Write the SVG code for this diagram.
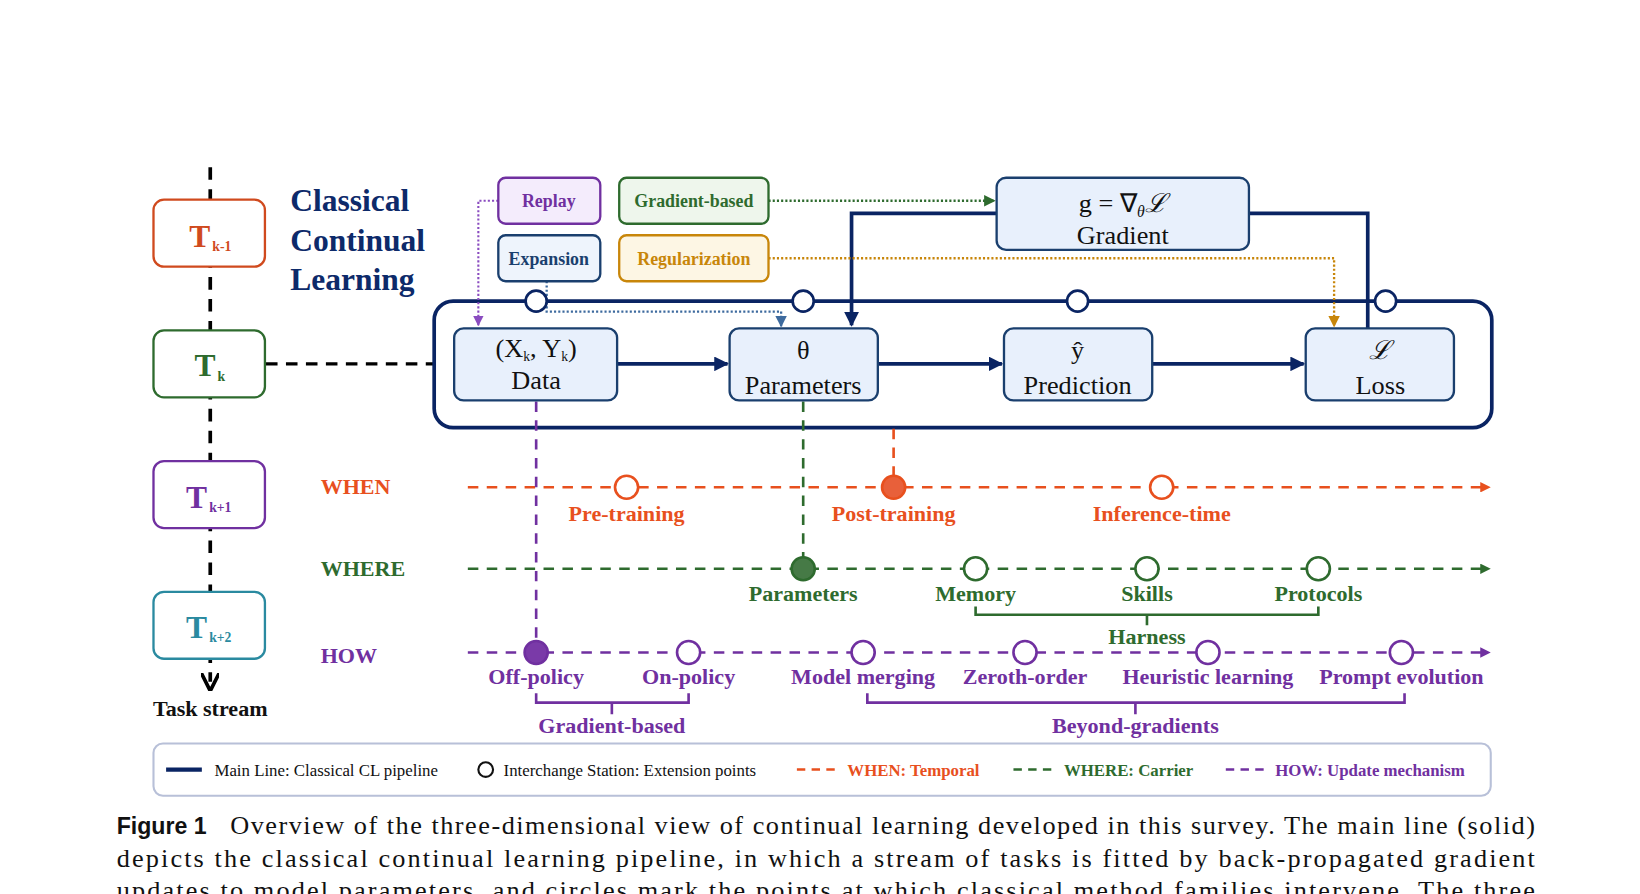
<svg xmlns="http://www.w3.org/2000/svg" width="1640" height="894" viewBox="0 0 1640 894">
<defs>
<style>
.serif{font-family:"Liberation Serif","Times New Roman",serif}
.b{font-weight:bold}
.node rect{fill:#e8f0fc;stroke:#1a3f6e;stroke-width:2.2}
.node text{font-family:"Liberation Serif",serif;font-size:25px;fill:#111;text-anchor:middle}
.task rect{fill:#fff;stroke-width:2.2}
.st{fill:#fff;stroke:#0a2463;stroke-width:2.5}
.main{stroke:#0a2463;stroke-width:3.5;fill:none}
.lbl{font-family:"Liberation Serif",serif;font-weight:bold;font-size:21px;text-anchor:middle}
.sb text{font-family:"Liberation Serif",serif;font-weight:bold;font-size:17px;text-anchor:middle}
</style>
<marker id="aN" viewBox="0 0 10 10" refX="9" refY="5" markerWidth="4" markerHeight="4" orient="auto"><path d="M0,0L10,5L0,10z" fill="#0a2463"/></marker>
<marker id="aK" viewBox="0 0 10 10" refX="5" refY="5" markerWidth="5" markerHeight="5" orient="auto"><path d="M0,0L10,5L0,10" fill="none" stroke="#000" stroke-width="2"/></marker>
<marker id="aP" viewBox="0 0 10 10" refX="9" refY="5" markerWidth="5" markerHeight="5" orient="auto"><path d="M0,0L10,5L0,10z" fill="#8a4cc0"/></marker>
<marker id="aG" viewBox="0 0 10 10" refX="9" refY="5" markerWidth="5" markerHeight="5" orient="auto"><path d="M0,0L10,5L0,10z" fill="#2e6b2e"/></marker>
<marker id="aO" viewBox="0 0 10 10" refX="9" refY="5" markerWidth="5" markerHeight="5" orient="auto"><path d="M0,0L10,5L0,10z" fill="#c8860a"/></marker>
<marker id="aB" viewBox="0 0 10 10" refX="9" refY="5" markerWidth="5" markerHeight="5" orient="auto"><path d="M0,0L10,5L0,10z" fill="#3d6a9e"/></marker>
<marker id="aR" viewBox="0 0 10 10" refX="9" refY="5" markerWidth="4" markerHeight="4" orient="auto"><path d="M0,0L10,5L0,10z" fill="#e8501e"/></marker>
<marker id="aGr" viewBox="0 0 10 10" refX="9" refY="5" markerWidth="4" markerHeight="4" orient="auto"><path d="M0,0L10,5L0,10z" fill="#2e6b2e"/></marker>
<marker id="aPu" viewBox="0 0 10 10" refX="9" refY="5" markerWidth="4" markerHeight="4" orient="auto"><path d="M0,0L10,5L0,10z" fill="#7030a0"/></marker>
</defs>
<rect width="1640" height="894" fill="#fff"/>
<g transform="scale(1.0513,1.0456)">
<g id="connectors" fill="none">
<line x1="200" y1="160" x2="200" y2="652" stroke="#000" stroke-width="3.5" stroke-dasharray="12,9" marker-end="url(#aK)"/>
<line x1="253" y1="348" x2="413" y2="348" stroke="#000" stroke-width="3" stroke-dasharray="11,8"/>
<rect x="413" y="288" width="1006" height="121" rx="18" class="main"/>
<line x1="587" y1="348" x2="692" y2="348" class="main" marker-end="url(#aN)"/>
<line x1="835" y1="348" x2="953" y2="348" class="main" marker-end="url(#aN)"/>
<line x1="1096" y1="348" x2="1240" y2="348" class="main" marker-end="url(#aN)"/>
<polyline points="1301,314 1301,204 1188,204" class="main"/>
<polyline points="948,204 810,204 810,311" class="main" marker-end="url(#aN)"/>
<polyline points="474,192 455,192 455,311" stroke="#8a4cc0" stroke-width="2" stroke-dasharray="2,2" marker-end="url(#aP)"/>
<line x1="731" y1="192" x2="946" y2="192" stroke="#2e6b2e" stroke-width="2.2" stroke-dasharray="2,2" marker-end="url(#aG)"/>
<polyline points="731,247 1269,247 1269,312" stroke="#c8860a" stroke-width="2.2" stroke-dasharray="2,2" marker-end="url(#aO)"/>
<polyline points="520,269 520,298 743,298 743,312" stroke="#3d6a9e" stroke-width="2.2" stroke-dasharray="2,2" marker-end="url(#aB)"/>
<line x1="445" y1="466" x2="1417" y2="466" stroke="#e8501e" stroke-width="2.5" stroke-dasharray="10,8" marker-end="url(#aR)"/>
<line x1="850" y1="410" x2="850" y2="455" stroke="#e8501e" stroke-width="2.5" stroke-dasharray="10,8"/>
<line x1="445" y1="544" x2="1417" y2="544" stroke="#2e6b2e" stroke-width="2.5" stroke-dasharray="10,8" marker-end="url(#aGr)"/>
<line x1="764" y1="384" x2="764" y2="533" stroke="#2e6b2e" stroke-width="2.5" stroke-dasharray="10,8"/>
<line x1="445" y1="624" x2="1417" y2="624" stroke="#7030a0" stroke-width="2.5" stroke-dasharray="10,8" marker-end="url(#aPu)"/>
<line x1="510" y1="384" x2="510" y2="612" stroke="#7030a0" stroke-width="2.5" stroke-dasharray="10,8"/>
<path d="M928,580V588H1254V580M1091,588V598" stroke="#2e6b2e" stroke-width="2.5"/>
<path d="M510,663V672H655V663M582,672V683" stroke="#7030a0" stroke-width="2.5"/>
<path d="M825,663V672H1336V663M1080,672V683" stroke="#7030a0" stroke-width="2.5"/>
</g>

<g id="stations">
<circle cx="510" cy="288" r="10" class="st"/>
<circle cx="764" cy="288" r="10" class="st"/>
<circle cx="1025" cy="288" r="10" class="st"/>
<circle cx="1318" cy="288" r="10" class="st"/>
</g>

<g id="tasks" class="serif b">
<g id="task-km1" class="task"><rect x="146" y="191" width="106" height="64" rx="10" stroke="#d04a1e"/><text x="180" y="236" font-size="30" fill="#d04a1e">T<tspan font-size="13" dy="4" dx="2">k-1</tspan></text></g>
<g id="task-k" class="task"><rect x="146" y="316" width="106" height="64" rx="10" stroke="#2e6b2e"/><text x="185" y="360" font-size="30" fill="#2e6b2e">T<tspan font-size="13" dy="4" dx="2">k</tspan></text></g>
<g id="task-kp1" class="task"><rect x="146" y="441" width="106" height="64" rx="10" stroke="#7030a0"/><text x="177" y="486" font-size="30" fill="#7030a0">T<tspan font-size="13" dy="4" dx="2">k+1</tspan></text></g>
<g id="task-kp2" class="task"><rect x="146" y="566" width="106" height="64" rx="10" stroke="#2a8aa0"/><text x="177" y="610" font-size="30" fill="#2a8aa0">T<tspan font-size="13" dy="4" dx="2">k+2</tspan></text></g>
<text x="200" y="685" font-size="21" text-anchor="middle" fill="#111">Task stream</text>
</g>

<g id="title" class="serif b" font-size="30" fill="#0d2a6a">
<text x="276" y="202">Classical</text>
<text x="276" y="240">Continual</text>
<text x="276" y="277">Learning</text>
</g>

<g id="node-data" class="node"><rect x="432" y="314" width="155" height="69" rx="9"/><text x="510" y="341" font-size="22">(X<tspan font-size="13" dy="4">k</tspan><tspan dy="-4">, Y</tspan><tspan font-size="13" dy="4">k</tspan><tspan dy="-4">)</tspan></text><text x="510" y="372">Data</text></g>
<g id="node-params" class="node"><rect x="694" y="314" width="141" height="69" rx="9"/><text x="764" y="343" font-size="28">θ</text><text x="764" y="377">Parameters</text></g>
<g id="node-pred" class="node"><rect x="955" y="314" width="141" height="69" rx="9"/><text x="1025" y="343" font-size="28">ŷ</text><text x="1025" y="377">Prediction</text></g>
<g id="node-loss" class="node"><rect x="1242" y="314" width="141" height="69" rx="9"/><text x="1313" y="343" font-style="italic">ℒ</text><text x="1313" y="377">Loss</text></g>
<g id="node-grad" class="node"><rect x="948" y="170" width="240" height="69" rx="9"/><text x="1068" y="203" font-size="31">g = ∇<tspan font-size="15" dy="5" font-style="italic">θ</tspan><tspan dy="-5" font-style="italic">ℒ</tspan></text><text x="1068" y="233">Gradient</text></g>

<g id="box-replay" class="sb"><rect x="474" y="170" width="97" height="44" rx="7" fill="#f4ecfc" stroke="#7030a0" stroke-width="2.2"/><text x="522" y="198" fill="#7030a0">Replay</text></g>
<g id="box-gradbased" class="sb"><rect x="589" y="170" width="142" height="44" rx="7" fill="#eef6ec" stroke="#2e6b2e" stroke-width="2.2"/><text x="660" y="198" fill="#2e6b2e">Gradient-based</text></g>
<g id="box-expansion" class="sb"><rect x="474" y="225" width="97" height="44" rx="7" fill="#eef4fc" stroke="#1a3f6e" stroke-width="2.2"/><text x="522" y="253" fill="#1a3f6e">Expansion</text></g>
<g id="box-reg" class="sb"><rect x="589" y="225" width="142" height="44" rx="7" fill="#fdf6e4" stroke="#c8860a" stroke-width="2.2"/><text x="660" y="253" fill="#c8860a">Regularization</text></g>

<g id="when" fill="#e8501e">
<text x="305" y="472" class="serif b" font-size="21">WHEN</text>
<circle cx="596" cy="466" r="11" fill="#fff" stroke="#e8501e" stroke-width="2.5"/>
<circle cx="850" cy="466" r="11" fill="#e8603a" stroke="#e8501e" stroke-width="2.5"/>
<circle cx="1105" cy="466" r="11" fill="#fff" stroke="#e8501e" stroke-width="2.5"/>
<text x="596" y="498" class="lbl">Pre-training</text>
<text x="850" y="498" class="lbl">Post-training</text>
<text x="1105" y="498" class="lbl">Inference-time</text>
</g>
<g id="where" fill="#2e6b2e">
<text x="305" y="551" class="serif b" font-size="21">WHERE</text>
<circle cx="764" cy="544" r="11" fill="#467a46" stroke="#2e6b2e" stroke-width="2.5"/>
<circle cx="928" cy="544" r="11" fill="#fff" stroke="#2e6b2e" stroke-width="2.5"/>
<circle cx="1091" cy="544" r="11" fill="#fff" stroke="#2e6b2e" stroke-width="2.5"/>
<circle cx="1254" cy="544" r="11" fill="#fff" stroke="#2e6b2e" stroke-width="2.5"/>
<text x="764" y="575" class="lbl">Parameters</text>
<text x="928" y="575" class="lbl">Memory</text>
<text x="1091" y="575" class="lbl">Skills</text>
<text x="1254" y="575" class="lbl">Protocols</text>
<text x="1091" y="616" class="lbl">Harness</text>
</g>
<g id="how" fill="#7030a0">
<text x="305" y="634" class="serif b" font-size="21">HOW</text>
<circle cx="510" cy="624" r="11" fill="#7a3aa8" stroke="#7030a0" stroke-width="2.5"/>
<circle cx="655" cy="624" r="11" fill="#fff" stroke="#7030a0" stroke-width="2.5"/>
<circle cx="821" cy="624" r="11" fill="#fff" stroke="#7030a0" stroke-width="2.5"/>
<circle cx="975" cy="624" r="11" fill="#fff" stroke="#7030a0" stroke-width="2.5"/>
<circle cx="1149" cy="624" r="11" fill="#fff" stroke="#7030a0" stroke-width="2.5"/>
<circle cx="1333" cy="624" r="11" fill="#fff" stroke="#7030a0" stroke-width="2.5"/>
<text x="510" y="654" class="lbl">Off-policy</text>
<text x="655" y="654" class="lbl">On-policy</text>
<text x="821" y="654" class="lbl">Model merging</text>
<text x="975" y="654" class="lbl">Zeroth-order</text>
<text x="1149" y="654" class="lbl">Heuristic learning</text>
<text x="1333" y="654" class="lbl">Prompt evolution</text>
<text x="582" y="701" class="lbl">Gradient-based</text>
<text x="1080" y="701" class="lbl">Beyond-gradients</text>
</g>

<g id="legend" class="serif" font-size="16">
<rect x="146" y="711" width="1272" height="50" rx="9" fill="#fff" stroke="#b8c0d8" stroke-width="2"/>
<line x1="158" y1="736" x2="192" y2="736" stroke="#0a2463" stroke-width="4"/>
<text x="204" y="742" fill="#111">Main Line: Classical CL pipeline</text>
<circle cx="462" cy="736" r="7" fill="#fff" stroke="#111" stroke-width="2"/>
<text x="479" y="742" fill="#111">Interchange Station: Extension points</text>
<line x1="758" y1="736" x2="795" y2="736" stroke="#e8501e" stroke-width="2.5" stroke-dasharray="8,6"/>
<text x="806" y="742" fill="#e8501e" class="b">WHEN: Temporal</text>
<line x1="964" y1="736" x2="1000" y2="736" stroke="#2e6b2e" stroke-width="2.5" stroke-dasharray="8,6"/>
<text x="1012" y="742" fill="#2e6b2e" class="b">WHERE: Carrier</text>
<line x1="1166" y1="736" x2="1202" y2="736" stroke="#7030a0" stroke-width="2.5" stroke-dasharray="8,6"/>
<text x="1213" y="742" fill="#7030a0" class="b">HOW: Update mechanism</text>
</g>

<g id="caption" fill="#111">
<text x="111" y="798" font-family="Liberation Sans,Arial,sans-serif" font-weight="bold" font-size="22">Figure 1</text>
<text x="219" y="798" class="serif" font-size="25" textLength="1241" lengthAdjust="spacing">Overview of the three-dimensional view of continual learning developed in this survey. The main line (solid)</text>
<text x="111" y="829" class="serif" font-size="25" textLength="1349" lengthAdjust="spacing">depicts the classical continual learning pipeline, in which a stream of tasks is fitted by back-propagated gradient</text>
<text x="111" y="860" class="serif" font-size="25" textLength="1349" lengthAdjust="spacing">updates to model parameters, and circles mark the points at which classical method families intervene. The three</text>
</g>
</g>
</svg>
